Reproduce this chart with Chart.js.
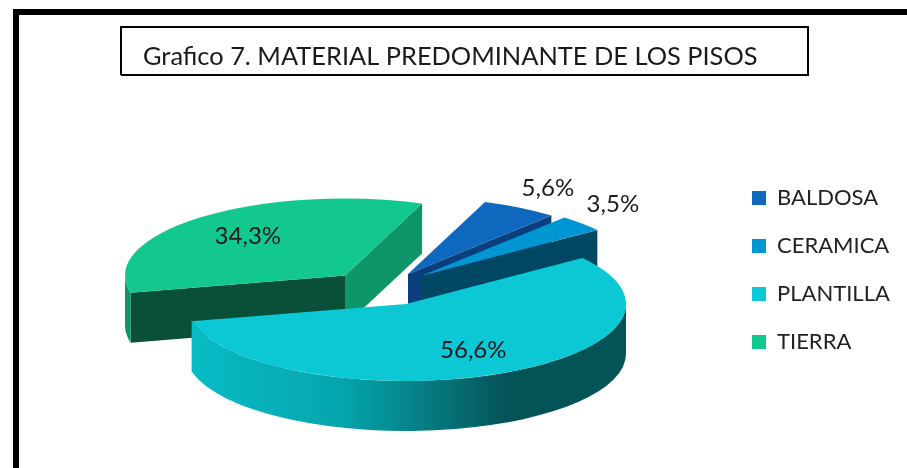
<!DOCTYPE html>
<html>
<head>
<meta charset="utf-8">
<style>
html,body{margin:0;padding:0;background:#fff;overflow:hidden}
canvas{display:block}
</style>
<script src="https://cdn.jsdelivr.net/npm/chart.js@4"></script>
</head>
<body>
<canvas id="c" width="907" height="468"></canvas>
<script>
const categories = ['BALDOSA', 'CERAMICA', 'PLANTILLA', 'TIERRA'];
const values = [5.6, 3.5, 56.6, 34.3];
const topColors = ['#0e68bd', '#0096d2', '#0bc8d4', '#12c88f'];
const endFaceColors = ['#0b3e7c', '#004763', '#045357', '#0f9668'];
const startFaceColors = ['#0b3e7c', '#004763', '#045357', '#0a5038'];
const titleText = 'Grafico 7. MATERIAL PREDOMINANTE DE LOS PISOS';

const explodeX = [19, 32, 17, -44];
const explodeY = [-13, -11, 17, -11.5];
const labelTilt = [0.014, 0.07, 0.04, 0];
const pie = {cx: 389, cy: 287, radius: 220, squash: 0.35, depth: 50, rotation: 20.5};
const FONT = 'Lato, Carlito, sans-serif';

function apex(i) {
  return {x: pie.cx + explodeX[i], y: pie.cy + explodeY[i]};
}

const pie3d = {
  id: 'pie3d',
  beforeDraw(chart) {
    const c = chart.ctx;
    c.save();
    c.fillStyle = '#fff';
    c.fillRect(0, 0, chart.width, chart.height);
    c.fillStyle = '#000';
    c.fillRect(13, 9, chart.width - 13, 6);
    c.fillRect(13, 9, 6, chart.height - 9);
    c.strokeStyle = '#000';
    c.lineWidth = 2;
    c.beginPath();
    c.moveTo(121, 75); c.lineTo(121, 27); c.lineTo(808, 27); c.lineTo(808, 75); c.lineTo(121, 75);
    c.stroke();
    c.restore();
  },
  beforeDatasetsDraw(chart) {
    const c = chart.ctx;
    const arcs = chart.getDatasetMeta(0).data;
    const order = [3, 0, 1, 2];
    order.forEach(i => {
      const el = arcs[i];
      const a = apex(i);
      const r = el.outerRadius, k = pie.squash, D = pie.depth;
      const face = (ang, col) => {
        const ex = a.x + Math.cos(ang) * r, ey = a.y + Math.sin(ang) * r * k;
        c.fillStyle = col;
        c.beginPath();
        c.moveTo(a.x, a.y); c.lineTo(ex, ey); c.lineTo(ex, ey + D); c.lineTo(a.x, a.y + D);
        c.closePath(); c.fill();
      };
      if (Math.cos(el.startAngle) < 0) face(el.startAngle, startFaceColors[i]);
      if (Math.cos(el.endAngle) > 0) face(el.endAngle, endFaceColors[i]);
      const s = Math.max(el.startAngle, 0), e = Math.min(el.endAngle, Math.PI);
      if (e > s) {
        let fill = endFaceColors[i];
        if (i === 2) {
          const g = c.createLinearGradient(a.x - r, 0, a.x + r, 0);
          g.addColorStop(0, '#08bcc6');
          g.addColorStop(0.35, '#05a6ae');
          g.addColorStop(0.56, '#06797f');
          g.addColorStop(0.73, '#045357');
          g.addColorStop(1, '#045357');
          fill = g;
        }
        c.fillStyle = fill;
        c.beginPath();
        c.ellipse(a.x, a.y, r, r * k, 0, s, e, false);
        c.ellipse(a.x, a.y + D, r, r * k, 0, e, s, true);
        c.closePath(); c.fill();
      }
    });
  },
  beforeDatasetDraw(chart) {
    // Each library arc is drawn on its own, exploded and tilted.
    const c = chart.ctx;
    chart.getDatasetMeta(0).data.forEach((el, i) => {
      const a = apex(i);
      c.save();
      c.translate(a.x, a.y);
      c.scale(1, pie.squash);
      c.translate(-el.x, -el.y);
      el.draw(c);
      c.restore();
    });
    return false;
  },
  afterDatasetsDraw(chart) {
    const c = chart.ctx;
    const arcs = chart.getDatasetMeta(0).data;
    c.save();
    c.font = '24px ' + FONT;
    c.fillStyle = '#1c1c1c';
    c.textAlign = 'center';
    c.textBaseline = 'middle';
    arcs.forEach((el, i) => {
      const a = apex(i);
      const mid = (el.startAngle + el.endAngle) / 2;
      const rr = el.outerRadius * (values[i] < 10 ? 1.28 : 0.67);
      const ang = mid - labelTilt[i];
      c.fillText(values[i].toFixed(1).replace('.', ',') + '%',
        a.x + Math.cos(ang) * rr, a.y + Math.sin(ang) * rr * pie.squash);
    });
    c.restore();
  },
  afterLayout(chart) {
    const l = chart.legend, t = chart.titleBlock;
    l.left = 726; l.right = 905; l.top = 161; l.bottom = 400;
    t.left = 143; t.right = 800; t.top = 42; t.bottom = 74;
  }
};

new Chart(document.getElementById('c'), {
  type: 'pie',
  data: {
    labels: categories,
    datasets: [{
      data: values,
      backgroundColor: topColors,
      borderWidth: 0,
      clip: false
    }]
  },
  options: {
    responsive: false,
    animation: false,
    rotation: pie.rotation,
    radius: pie.radius,
    events: [],
    plugins: {
      tooltip: {enabled: false},
      title: {
        display: true, text: titleText, align: 'start', color: '#1a1a1a',
        font: {family: FONT, size: 25.4, weight: 'normal'}, padding: 0
      },
      legend: {
        display: true, position: 'right', align: 'start',
        labels: {
          boxWidth: 14, boxHeight: 14, padding: 26, color: '#222',
          font: {family: FONT, size: 22}
        }
      }
    }
  },
  plugins: [pie3d]
});
</script>
</body>
</html>
